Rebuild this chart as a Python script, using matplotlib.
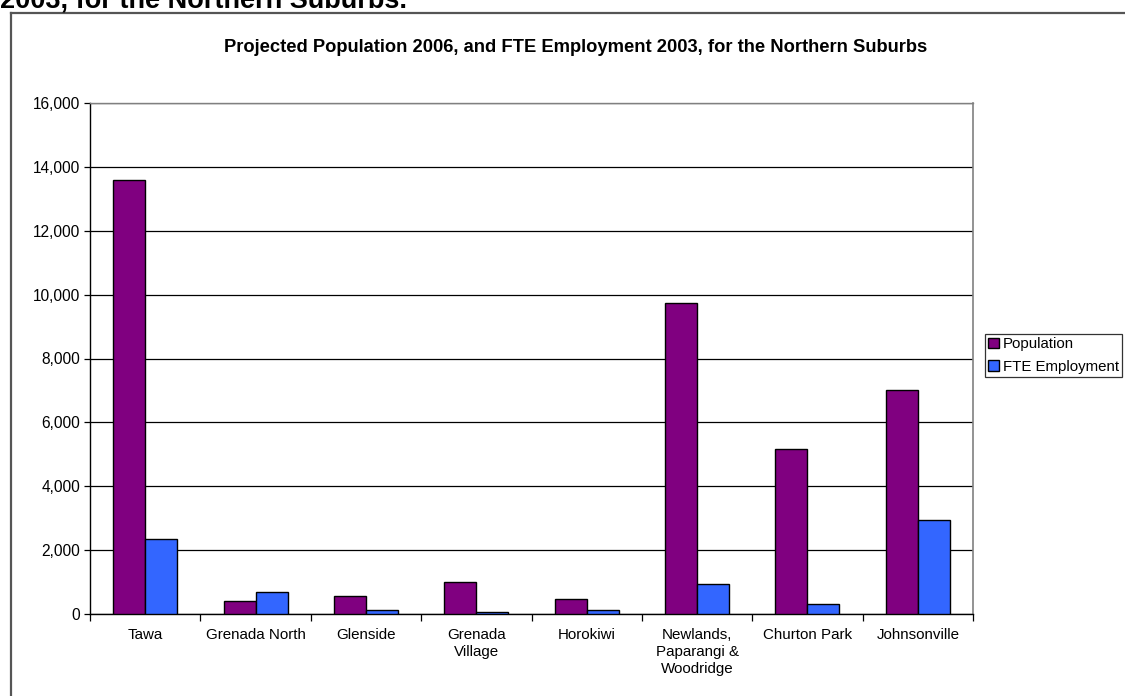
import matplotlib
matplotlib.use("Agg")
import matplotlib.pyplot as plt
import numpy as np
from matplotlib.lines import Line2D
from matplotlib.ticker import FuncFormatter, FixedLocator

plt.rcParams['font.family'] = ['Liberation Sans', 'DejaVu Sans']

suburbs = ["Tawa", "Grenada North", "Glenside", "Grenada\nVillage", "Horokiwi",
           "Newlands,\nPaparangi &\nWoodridge", "Churton Park", "Johnsonville"]
population = [13580, 400, 570, 1010, 485, 9740, 5170, 7010]
fte_employment = [2350, 695, 130, 55, 130, 945, 325, 2930]
series_names = ["Population", "FTE Employment"]
series_colors = ["#800080", "#3366FF"]
y_ticks = [0, 2000, 4000, 6000, 8000, 10000, 12000, 14000, 16000]

W, H = 1125, 696
fig = plt.figure(figsize=(W / 100, H / 100), dpi=100)
fig.patch.set_facecolor("white")

def fx(px):
    return px / W

def fy(py):
    return 1 - py / H

# Outer chart frame (runs past the right and bottom edges)
frame_col = "#555555"
fig.add_artist(Line2D([fx(11), 1.0], [fy(13), fy(13)], color=frame_col, lw=1.6,
                      transform=fig.transFigure))
fig.add_artist(Line2D([fx(11), fx(11)], [fy(13), 0.0], color=frame_col, lw=1.6,
                      transform=fig.transFigure))

# Caption line above the frame, clipped at the top of the page
fig.text(fx(0), fy(8), "2003, for the Northern Suburbs.", fontsize=19.5,
         fontweight="bold", ha="left", va="baseline", color="black")

# Chart title
fig.text(fx(576), fy(48), "Projected Population 2006, and FTE Employment 2003, for the Northern Suburbs",
         fontsize=13.2, fontweight="bold", ha="center", va="center")

left, right, top, bottom = 90, 973, 103, 614
ax = fig.add_axes([fx(left), fy(bottom), fx(right - left), (bottom - top) / H])

x = np.arange(len(suburbs))
bw = 0.29
ax.bar(x - bw / 2, population, width=bw, color=series_colors[0], edgecolor="black",
       linewidth=1.0, label=series_names[0], zorder=3)
ax.bar(x + bw / 2, fte_employment, width=bw, color=series_colors[1], edgecolor="black",
       linewidth=1.0, label=series_names[1], zorder=3)

ax.set_xlim(-0.5, len(suburbs) - 0.5)
ax.set_ylim(y_ticks[0], y_ticks[-1])
ax.yaxis.set_major_locator(FixedLocator(y_ticks))
ax.yaxis.set_major_formatter(FuncFormatter(lambda v, p: f"{int(v):,}"))
ax.grid(axis="y", color="black", linewidth=0.9, zorder=1)

# Category labels centred under each group, tick marks between groups
ax.set_xticks(np.arange(-0.5, len(suburbs) + 0.5, 1.0))
ax.set_xticklabels([])
ax.set_xticks(x, minor=True)
ax.set_xticklabels(suburbs, minor=True, fontsize=10.9, linespacing=1.27, va="top")
ax.tick_params(axis="x", which="major", direction="out", length=5, width=0.9, color="black")
ax.tick_params(axis="x", which="minor", length=0, pad=10)
ax.tick_params(axis="y", direction="out", length=4, width=0.9, labelsize=11.2, pad=3)

for s in ["left", "bottom"]:
    ax.spines[s].set_color("black")
    ax.spines[s].set_linewidth(1.0)
ax.spines["right"].set_color("#808080")
ax.spines["right"].set_linewidth(1.2)
ax.spines["top"].set_color("#808080")
ax.spines["top"].set_linewidth(1.0)

leg = ax.legend(loc="upper left", bbox_to_anchor=(fx(985), fy(334)),
                bbox_transform=fig.transFigure, fontsize=10.8, frameon=True,
                fancybox=False, edgecolor="black", handlelength=0.7,
                handleheight=0.7, handletextpad=0.25, borderpad=0.22,
                labelspacing=0.55, borderaxespad=0)
leg.get_frame().set_linewidth(0.9)

fig.savefig("out.png", dpi=100, facecolor="white")
